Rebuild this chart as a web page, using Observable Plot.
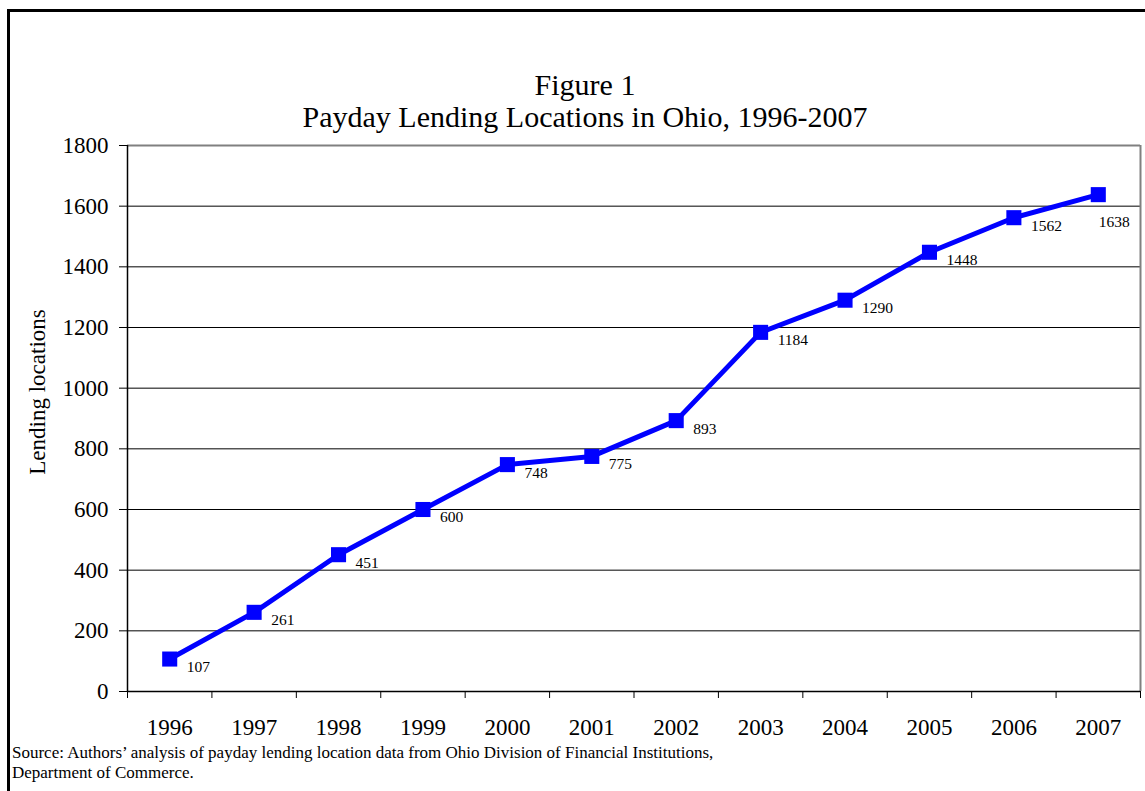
<!DOCTYPE html>
<html>
<head>
<meta charset="utf-8">
<script src="https://cdn.jsdelivr.net/npm/d3@7"></script>
<script src="https://cdn.jsdelivr.net/npm/@observablehq/plot@0.6"></script>
<style>
  html, body { margin: 0; padding: 0; background: #fff; overflow: hidden; }
  #wrap { position: relative; width: 1145px; height: 791px; overflow: hidden; font-family: 'Liberation Serif', 'Times New Roman', serif; color: #000; }
  #frame { position: absolute; left: 7px; top: 9px; width: 1300px; height: 900px; border: 3px solid #000; box-sizing: border-box; }
  .title { position: absolute; left: 0; width: 1170px; text-align: center; font-size: 30px; line-height: 32px; white-space: nowrap; }
  #ytitle { position: absolute; left: 38px; top: 392px; transform: translate(-50%, -50%) rotate(-90deg); font-size: 23px; white-space: nowrap; }
  .src { position: absolute; left: 12px; font-size: 17px; line-height: 20px; white-space: nowrap; }
  #chart { position: absolute; left: 0; top: 0; }
</style>
</head>
<body>
<div id="wrap">
  <div id="chart"></div>
  <div id="frame"></div>
  <div class="title" style="top:69px">Figure 1</div>
  <div class="title" style="top:101px">Payday Lending Locations in Ohio, 1996-2007</div>
  <div id="ytitle">Lending locations</div>
  <div class="src" style="top:743px">Source: Authors’ analysis of payday lending location data from Ohio Division of Financial Institutions,</div>
  <div class="src" style="top:763px">Department of Commerce.</div>
</div>
<script>
const years = [1996, 1997, 1998, 1999, 2000, 2001, 2002, 2003, 2004, 2005, 2006, 2007];
const locations = [107, 261, 451, 600, 748, 775, 893, 1184, 1290, 1448, 1562, 1638];
const yTicks = [0, 200, 400, 600, 800, 1000, 1200, 1400, 1600, 1800];

const data = years.map((yr, i) => ({year: yr, value: locations[i]}));
const boundaries = years.map(y => y - 0.5).concat([years[years.length - 1] + 0.5]);
const xMin = boundaries[0], xMax = boundaries[boundaries.length - 1];
const yMax = yTicks[yTicks.length - 1];
const n = data.length;

const chart = Plot.plot({
  width: 1145,
  height: 791,
  marginLeft: 127,
  marginRight: 5,
  marginTop: 145,
  marginBottom: 100,
  style: {fontFamily: "'Liberation Serif', 'Times New Roman', serif", fontSize: "23px", background: "transparent", color: "#000"},
  x: {type: "linear", domain: [xMin, xMax]},
  y: {domain: [0, yMax]},
  marks: [
    Plot.ruleY(yTicks.filter(t => t > 0 && t < yMax), {stroke: "#000", strokeWidth: 1}),
    Plot.ruleY([yMax], {stroke: "#808080", strokeWidth: 2}),
    Plot.ruleX([xMax], {stroke: "#808080", strokeWidth: 2}),
    Plot.ruleX([xMin], {stroke: "#000", strokeWidth: 1.5}),
    Plot.ruleY([0], {stroke: "#000", strokeWidth: 1.5}),
    Plot.axisY({ticks: yTicks, tickSize: 8, tickPadding: 11, tickFormat: d => String(d), label: null, fontSize: 23}),
    Plot.axisX({ticks: boundaries, tickSize: 7, tickFormat: () => "", label: null}),
    Plot.axisX({ticks: years, tickSize: 0, tickPadding: 27, tickFormat: d => String(d), label: null, fontSize: 23}),
    Plot.line(data, {x: "year", y: "value", stroke: "#0000ff", strokeWidth: 5, strokeLinejoin: "round"}),
    Plot.dot(data, {x: "year", y: "value", symbol: "square", r: 8.5, fill: "#0000ff", stroke: "none"}),
    Plot.text(data, {filter: (d, i) => i < n - 1, x: "year", y: "value", text: d => String(d.value), textAnchor: "start", dx: 17, dy: 8, fontSize: 15.5, fill: "#000"}),
    Plot.text(data, {filter: (d, i) => i === n - 1, x: "year", y: "value", text: d => String(d.value), textAnchor: "middle", dx: 16, dy: 27, fontSize: 15.5, fill: "#000"})
  ]
});
document.getElementById("chart").appendChild(chart);
</script>
</body>
</html>
